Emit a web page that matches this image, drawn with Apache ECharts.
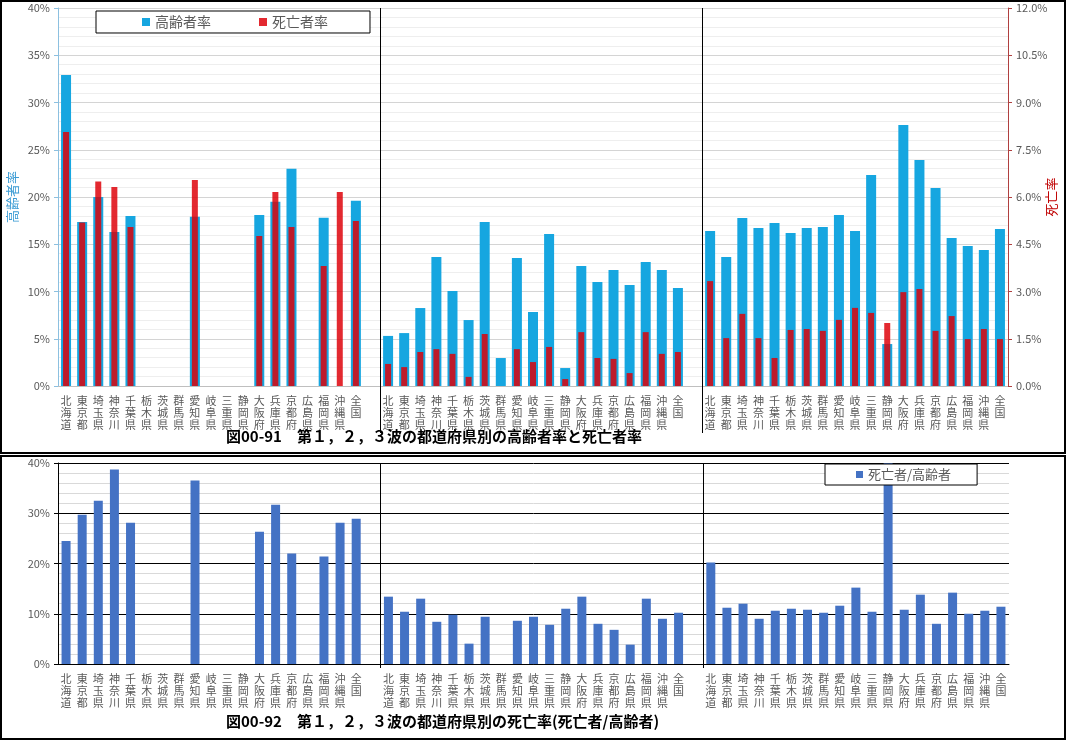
<!DOCTYPE html>
<html><head><meta charset="utf-8">
<script src="https://cdn.jsdelivr.net/npm/echarts@6/dist/echarts.min.js"></script>
<style>html,body{margin:0;padding:0;background:#fff}#c{width:1066px;height:741px}</style>
</head><body><div id="c"></div>
<script>
const prefs = ['北海道','東京都','埼玉県','神奈川','千葉県','栃木県','茨城県','群馬県','愛知県','岐阜県','三重県','静岡県','大阪府','兵庫県','京都府','広島県','福岡県','沖縄県','全国'];
// 高齢者率 (%)
const elder1 = [32.9, 17.35, 20.0, 16.3, 18.0, null, null, null, 17.9, null, null, null, 18.1, 19.5, 23.0, null, 17.8, null, 19.6];
const elder2 = [5.3, 5.6, 8.25, 13.65, 10.05, 6.98, 17.35, 2.96, 13.54, 7.83, 16.08, 1.9, 12.7, 11.0, 12.28, 10.69, 13.12, 12.28, 10.37];
const elder3 = [16.4, 13.65, 17.78, 16.72, 17.25, 16.19, 16.72, 16.83, 18.1, 16.4, 22.33, 4.44, 27.62, 23.92, 20.95, 15.66, 14.81, 14.39, 16.61];
// 死亡者率 (%)
const death1 = [8.06, 5.19, 6.49, 6.32, 5.05, null, null, null, 6.54, null, null, null, 4.76, 6.16, 5.05, null, 3.81, 6.16, 5.24];
const death2 = [0.70, 0.60, 1.08, 1.17, 1.02, 0.29, 1.65, null, 1.17, 0.76, 1.24, 0.22, 1.71, 0.89, 0.86, 0.41, 1.71, 1.02, 1.08];
const death3 = [3.33, 1.52, 2.29, 1.52, 0.89, 1.78, 1.81, 1.75, 2.10, 2.48, 2.32, 2.0, 2.98, 3.08, 1.75, 2.22, 1.49, 1.81, 1.49];
// 死亡者/高齢者 (%)
const ratio1 = [24.5, 29.7, 32.5, 38.7, 28.1, null, null, null, 36.5, null, null, null, 26.3, 31.7, 22.0, null, 21.4, 28.1, 28.9];
const ratio2 = [13.4, 10.4, 13.0, 8.4, 9.8, 4.05, 9.4, null, 8.6, 9.4, 7.8, 11.0, 13.4, 8.0, 6.8, 3.85, 13.0, 9.0, 10.2];
const ratio3 = [20.2, 11.2, 12.0, 9.0, 10.6, 11.0, 10.8, 10.2, 11.6, 15.2, 10.4, 45.0, 10.8, 13.8, 8.0, 14.2, 10.0, 10.6, 11.4];
const leftTicks = {min: 0, max: 40};
const rightTicks = {min: 0, max: 12};

const cats = [...prefs, '', ...prefs, '', ...prefs];
const join3 = (a, b, c) => [...a, null, ...b, null, ...c];
const elder = join3(elder1, elder2, elder3);
const death = join3(death1, death2, death3);
const ratio = join3(ratio1, ratio2, ratio3);
const sepAfter = [prefs.length, 2 * prefs.length + 1]; // blank category indices

const FF = "'Noto Sans CJK JP', sans-serif";
const catLabel = {interval: 0, color: '#595959', fontSize: 11, lineHeight: 12, margin: 9, fontFamily: FF,
  formatter: v => v.split('').join('\n')};

const chart = echarts.init(document.getElementById('c'), null, {renderer: 'canvas'});
chart.setOption({
  animation: false,
  backgroundColor: '#fff',
  textStyle: {fontFamily: FF},
  title: [
    {text: '図00-91　第１，２，３波の都道府県別の高齢者率と死亡者率', left: 226, top: 429, padding: 0,
     textStyle: {fontSize: 15, fontWeight: 'bold', color: '#000', fontFamily: FF}},
    {text: '図00-92　第１，２，３波の都道府県別の死亡率(死亡者/高齢者)', left: 226, top: 714, padding: 0,
     textStyle: {fontSize: 15, fontWeight: 'bold', color: '#000', fontFamily: FF}}
  ],
  legend: [
    {data: ['高齢者率', '死亡者率'], left: 96, top: 11, padding: [4, 42, 4, 46], itemGap: 48,
     itemWidth: 8, itemHeight: 8, icon: 'rect', borderColor: '#000', borderWidth: 1, backgroundColor: '#fff',
     textStyle: {fontSize: 14, color: '#595959', fontFamily: FF}},
    {data: ['死亡者/高齢者'], left: 825, top: 464, padding: [4, 26, 4, 31], itemWidth: 7, itemHeight: 7, icon: 'rect',
     borderColor: '#000', borderWidth: 1, backgroundColor: '#fff', z: 10,
     textStyle: {fontSize: 13, color: '#595959', fontFamily: FF}}
  ],
  grid: [
    {left: 58, right: 58, top: 8, height: 378, outerBoundsMode: 'none', containLabel: false},
    {left: 58, right: 57, top: 463, height: 201, outerBoundsMode: 'none', containLabel: false}
  ],
  xAxis: [
    {type: 'category', gridIndex: 0, data: cats,
     axisLine: {lineStyle: {color: '#bfbfbf'}},
     axisTick: {show: false},
     splitLine: {show: false},
     axisLabel: catLabel},
    {type: 'category', gridIndex: 0, data: cats, show: false},
    {type: 'category', gridIndex: 1, data: cats,
     axisLine: {lineStyle: {color: '#000'}},
     axisTick: {show: false},
     splitLine: {show: false},
     axisLabel: catLabel}
  ],
  yAxis: [
    {type: 'value', gridIndex: 0, min: leftTicks.min, max: leftTicks.max, interval: 5,
     name: '高齢者率', nameLocation: 'middle', nameRotate: 90, nameGap: 39, nameMoveOverlap: false,
     nameTextStyle: {color: '#3a9bd4', fontSize: 13, fontFamily: FF},
     axisLine: {show: true, lineStyle: {color: '#8cc0e0'}},
     axisTick: {show: true, length: 4, lineStyle: {color: '#8cc0e0'}},
     axisLabel: {formatter: '{value}%', color: '#595959', fontSize: 11, margin: 8},
     splitLine: {lineStyle: {color: '#d4d4d4'}},
     minorTick: {show: false, splitNumber: 5},
     minorSplitLine: {show: true, lineStyle: {color: '#eeeeee'}}},
    {type: 'value', gridIndex: 0, min: rightTicks.min, max: rightTicks.max, interval: 1.5, position: 'right',
     name: '死亡率', nameLocation: 'middle', nameRotate: 90, nameGap: 37, nameMoveOverlap: false,
     nameTextStyle: {color: '#c00000', fontSize: 13, fontFamily: FF},
     axisLine: {show: true, lineStyle: {color: '#b04040'}},
     axisTick: {show: true, length: 4, lineStyle: {color: '#b04040'}},
     axisLabel: {formatter: v => v.toFixed(1) + '%', color: '#595959', fontSize: 11, margin: 8},
     splitLine: {show: false}},
    {type: 'value', gridIndex: 1, min: 0, max: 40, interval: 10,
     axisLine: {show: true, lineStyle: {color: '#000'}},
     axisTick: {show: true, length: 4, lineStyle: {color: '#000'}},
     axisLabel: {formatter: '{value}%', color: '#595959', fontSize: 11, margin: 8},
     splitLine: {lineStyle: {color: '#000'}},
     minorTick: {show: false, splitNumber: 5},
     minorSplitLine: {show: true, lineStyle: {color: '#d9d9d9'}}}
  ],
  series: [
    {name: '高齢者率', type: 'bar', xAxisIndex: 0, yAxisIndex: 0, data: elder, barWidth: 10,
     itemStyle: {color: '#16a6e0'}, z: 2},
    {name: '死亡者率', type: 'bar', xAxisIndex: 1, yAxisIndex: 1, data: death, barWidth: 6,
     itemStyle: {color: 'rgba(222,0,8,0.84)'}, z: 3},
    {name: '死亡者/高齢者', type: 'bar', xAxisIndex: 2, yAxisIndex: 2, data: ratio, barWidth: 9,
     itemStyle: {color: '#4472c4'}, z: 2}
  ]
});

// panel separators at category boundaries, positioned through the axes
const g = [
  {type: 'rect', shape: {x: 1, y: 1, width: 1064, height: 452}, style: {fill: 'none', stroke: '#000', lineWidth: 2}, z: 100},
  {type: 'rect', shape: {x: 1, y: 456, width: 1064, height: 283}, style: {fill: 'none', stroke: '#000', lineWidth: 2}, z: 100}
];
const topY = chart.convertToPixel({yAxisIndex: 0}, leftTicks.max);
const botY = chart.convertToPixel({yAxisIndex: 0}, leftTicks.min);
const topY2 = chart.convertToPixel({yAxisIndex: 2}, 40);
const botY2 = chart.convertToPixel({yAxisIndex: 2}, 0);
sepAfter.forEach(i => {
  const x1 = Math.round((chart.convertToPixel({xAxisIndex: 0}, i) + chart.convertToPixel({xAxisIndex: 0}, i + 1)) / 2) + 0.5;
  const x2 = Math.round((chart.convertToPixel({xAxisIndex: 2}, i) + chart.convertToPixel({xAxisIndex: 2}, i + 1)) / 2) + 0.5;
  g.push({type: 'line', shape: {x1: x1, y1: topY, x2: x1, y2: botY + 47}, style: {stroke: '#000', lineWidth: 1}, z: 50});
  g.push({type: 'line', shape: {x1: x2, y1: topY2, x2: x2, y2: botY2 + 4}, style: {stroke: '#000', lineWidth: 1}, z: 50});
});
chart.setOption({graphic: g});
</script></body></html>
